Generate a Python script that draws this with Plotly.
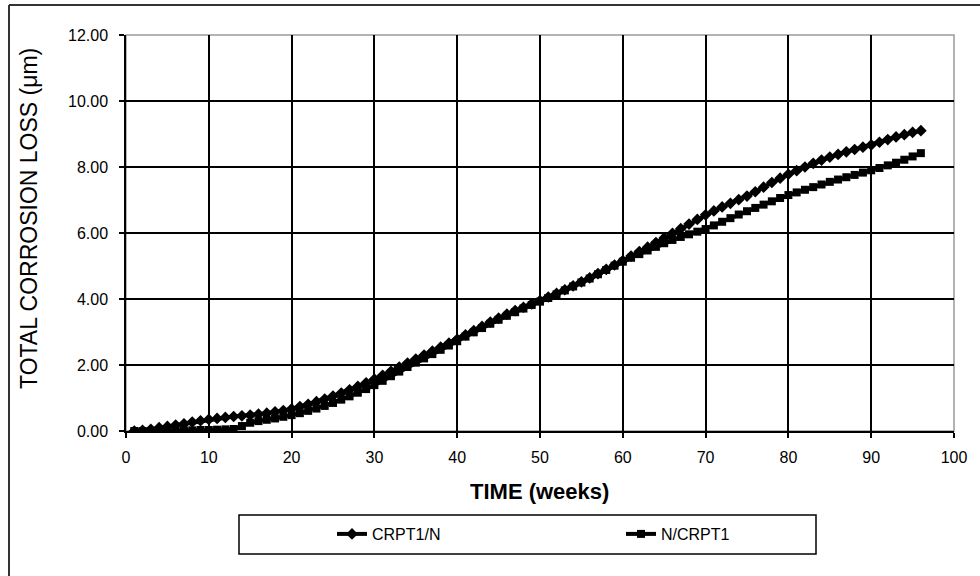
import plotly.graph_objects as go

weeks = list(range(1, 97))

crpt1_n = [
    0.00, 0.02, 0.05, 0.10,
    0.14, 0.18, 0.22, 0.27, 0.31, 0.35,
    0.38, 0.41, 0.44, 0.46, 0.48,
    0.51, 0.54, 0.58, 0.62, 0.67,
    0.74, 0.81, 0.89, 0.97, 1.06,
    1.15, 1.25, 1.35, 1.46, 1.57,
    1.69, 1.81, 1.94, 2.06, 2.18,
    2.30, 2.42, 2.54, 2.66, 2.78,
    2.91, 3.04, 3.17, 3.30, 3.42,
    3.54, 3.65, 3.75, 3.85, 3.95,
    4.06, 4.17, 4.28, 4.40, 4.52,
    4.64, 4.77, 4.90, 5.03, 5.16,
    5.30, 5.44, 5.57, 5.71, 5.85,
    5.99, 6.13, 6.27, 6.41, 6.55,
    6.67, 6.79, 6.90, 7.01, 7.12,
    7.25, 7.39, 7.53, 7.66, 7.78,
    7.89, 8.00, 8.11, 8.21, 8.30,
    8.38, 8.46, 8.53, 8.60, 8.67,
    8.75, 8.83, 8.91, 8.98, 9.05, 9.10,
]

n_crpt1 = [
    0.00, 0.00, 0.00, 0.00, 0.01, 0.01, 0.02, 0.02, 0.03, 0.03, 0.04, 0.05, 0.06,
    0.15, 0.25,
    0.30, 0.34, 0.38, 0.43, 0.48,
    0.54, 0.61, 0.68, 0.76, 0.85,
    0.95, 1.05, 1.16, 1.27, 1.39,
    1.52, 1.66, 1.80, 1.94, 2.07,
    2.20, 2.33, 2.46, 2.59, 2.72,
    2.86, 2.99, 3.12, 3.25, 3.37,
    3.49, 3.60, 3.71, 3.82, 3.92,
    4.03, 4.14, 4.26, 4.38, 4.50,
    4.62, 4.75, 4.88, 5.01, 5.13,
    5.25, 5.36, 5.47, 5.58, 5.69,
    5.79, 5.88, 5.96, 6.04, 6.12,
    6.23, 6.34, 6.45, 6.56, 6.66,
    6.76, 6.86, 6.96, 7.06, 7.15,
    7.23, 7.31, 7.39, 7.47, 7.55,
    7.62, 7.69, 7.76, 7.83, 7.90,
    7.97, 8.05, 8.13, 8.22, 8.32, 8.42,
]

x_ticks = [0, 10, 20, 30, 40, 50, 60, 70, 80, 90, 100]
y_ticks = [0, 2, 4, 6, 8, 10, 12]
y_tick_labels = ["0.00", "2.00", "4.00", "6.00", "8.00", "10.00", "12.00"]

FONT = "Liberation Sans, Arial, sans-serif"

fig = go.Figure()
fig.add_trace(go.Scatter(
    x=weeks, y=crpt1_n, name="CRPT1/N", mode="lines+markers",
    line=dict(color="black", width=4),
    marker=dict(symbol="diamond", size=9, color="black"),
))
fig.add_trace(go.Scatter(
    x=weeks, y=n_crpt1, name="N/CRPT1", mode="lines+markers",
    line=dict(color="black", width=4),
    marker=dict(symbol="square", size=8, color="black"),
))

# plot area pixel geometry: left 126, right 954, top 35, bottom 431
L, R, T, B = 126, 954, 35, 431
W, H = R - L, B - T
def px(x):
    return (x - L) / W
def py(y):
    return (B - y) / H

shapes = [
    dict(type="rect", xref="paper", yref="paper", x0=0, x1=1, y0=0, y1=1,
         line=dict(color="#9a9a9a", width=1.5), layer="below"),
    dict(type="line", xref="paper", yref="paper", x0=px(9), x1=px(985), y0=py(5), y1=py(5),
         line=dict(color="#333333", width=2)),
    dict(type="line", xref="paper", yref="paper", x0=px(9), x1=px(9), y0=py(5), y1=py(580),
         line=dict(color="#333333", width=2)),
    dict(type="rect", xref="paper", yref="paper", x0=px(239), x1=px(816), y0=py(554), y1=py(515),
         line=dict(color="black", width=1.5)),
]

annotations = [
    dict(text="TOTAL CORROSION LOSS (μm)", xref="paper", yref="paper",
         x=px(29), y=py(219), xanchor="center", yanchor="middle", textangle=-90,
         showarrow=False, font=dict(family=FONT, size=23, color="black")),
    dict(text="<b>TIME (weeks)</b>", xref="paper", yref="paper",
         x=px(539), y=py(491), xanchor="center", yanchor="middle",
         showarrow=False, font=dict(family=FONT, size=22, color="black")),
]

fig.update_layout(
    width=980, height=576,
    margin=dict(l=L, r=980 - R, t=T, b=576 - B),
    paper_bgcolor="white", plot_bgcolor="white",
    font=dict(family=FONT, size=16, color="black"),
    shapes=shapes,
    annotations=annotations,
    showlegend=True,
    legend=dict(
        orientation="h", x=px(332), y=py(534), xanchor="left", yanchor="middle",
        bgcolor="rgba(0,0,0,0)", borderwidth=0,
        font=dict(family=FONT, size=16, color="black"),
        entrywidth=244, entrywidthmode="pixels",
    ),
    xaxis=dict(
        range=[0, 100], tickvals=x_ticks, ticktext=[str(v) for v in x_ticks],
        showgrid=True, gridcolor="black", gridwidth=1.5,
        showline=True, linecolor="black", linewidth=1.5,
        ticks="outside", ticklen=5, tickcolor="black", tickwidth=1.5,
        ticklabelstandoff=6,
        zeroline=False,
        tickfont=dict(size=16),
    ),
    yaxis=dict(
        range=[0, 12], tickvals=y_ticks, ticktext=y_tick_labels,
        showgrid=True, gridcolor="black", gridwidth=1.5,
        showline=True, linecolor="black", linewidth=1.5,
        ticks="outside", ticklen=5, tickcolor="black", tickwidth=1.5,
        ticklabelstandoff=8,
        zeroline=False,
        tickfont=dict(size=16),
    ),
)

fig.write_html("out.html")
